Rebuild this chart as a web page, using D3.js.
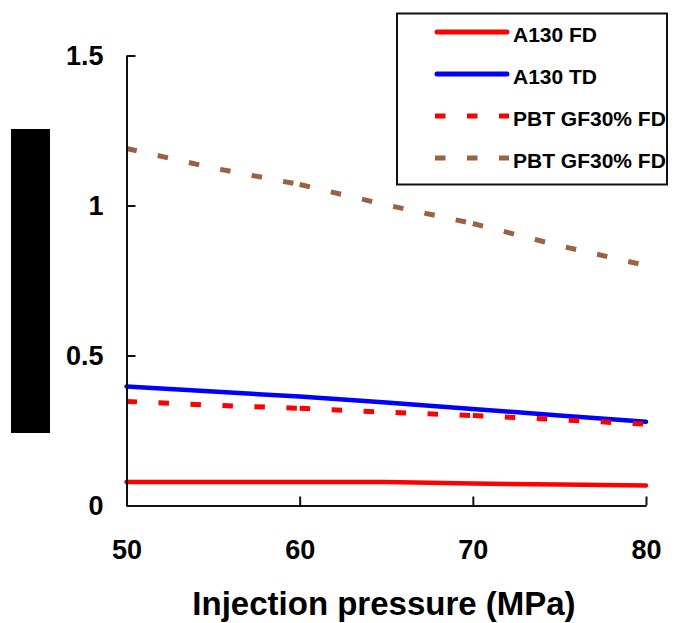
<!DOCTYPE html>
<html>
<head>
<meta charset="utf-8">
<script src="https://cdn.jsdelivr.net/npm/d3@7"></script>
<style>
  html, body { margin: 0; padding: 0; background: #fff; }
  svg { display: block; font-family: "Liberation Sans", Arial, sans-serif; font-weight: bold; }
</style>
</head>
<body>
<svg id="chart" width="680" height="623"></svg>
<script>
// Injection pressure (MPa)
const pressure = [50, 55, 60, 65, 70, 75, 80];

// Measured values per material / direction
const a130FD = [0.078, 0.078, 0.078, 0.078, 0.073, 0.070, 0.067];
const a130TD = [0.397, 0.380, 0.363, 0.343, 0.322, 0.300, 0.279];
const pbtFD  = [0.347, 0.334, 0.324, 0.311, 0.300, 0.286, 0.271];
const pbtFD2 = [1.190, 1.125, 1.070, 1.002, 0.940, 0.866, 0.800];

const seriesNames = ["A130 FD", "A130 TD", "PBT GF30% FD", "PBT GF30% FD"];
const xTicks = [50, 60, 70, 80];
const yTicks = [0, 0.5, 1, 1.5];

const series = [
  { name: seriesNames[0], values: a130FD, color: "#ff0000", dashed: false },
  { name: seriesNames[1], values: a130TD, color: "#0000ff", dashed: false },
  { name: seriesNames[2], values: pbtFD,  color: "#ff0000", dashed: true },
  { name: seriesNames[3], values: pbtFD2, color: "#9a6142", dashed: true }
];

const svg = d3.select("#chart");

const x = d3.scaleLinear().domain([50, 80]).range([126.5, 646]);
const y = d3.scaleLinear().domain([0, 1.5]).range([505.5, 55.5]);

// Axis title block on the left
svg.append("rect")
  .attr("x", 11).attr("y", 129)
  .attr("width", 39).attr("height", 304)
  .attr("fill", "#000");

// Data lines
const line = d3.line()
  .x(d => x(d[0]))
  .y(d => y(d[1]));

series.forEach(s => {
  const pts = pressure.map((p, i) => [p, s.values[i]]);
  if (s.dashed) {
    // dashed series: one path per 10 MPa span so the dash pattern restarts at each major tick
    for (let k = 0; k < xTicks.length - 1; k++) {
      const seg = pts.filter(d => d[0] >= xTicks[k] && d[0] <= xTicks[k + 1]);
      svg.append("path")
        .attr("d", line(seg))
        .attr("fill", "none")
        .attr("stroke", s.color)
        .attr("stroke-width", 5)
        .attr("stroke-dasharray", "10.5 21.5");
    }
  } else {
    svg.append("path")
      .attr("d", line(pts))
      .attr("fill", "none")
      .attr("stroke", s.color)
      .attr("stroke-width", 4.5)
      .attr("stroke-linecap", "round")
      .attr("stroke-linejoin", "round");
  }
});

// Axes
const yAxis = d3.axisLeft(y)
  .tickValues(yTicks)
  .tickFormat(d => String(d))
  .tickSizeInner(-9)
  .tickSizeOuter(0)
  .tickPadding(23);

const xAxis = d3.axisBottom(x)
  .tickValues(xTicks)
  .tickFormat(d => String(d))
  .tickSizeInner(-9)
  .tickSizeOuter(0)
  .tickPadding(34);

const gy = svg.append("g")
  .attr("transform", `translate(${x.range()[0]},0)`)
  .call(yAxis);

const gx = svg.append("g")
  .attr("transform", `translate(0,${y.range()[0]})`)
  .call(xAxis);

[gx, gy].forEach(g => {
  g.select(".domain").attr("stroke", "#111").attr("stroke-width", 2);
  g.selectAll(".tick line").attr("stroke", "#111").attr("stroke-width", 2);
  g.selectAll(".tick text")
    .attr("fill", "#000")
    .style("font-family", "'Liberation Sans', Arial, sans-serif")
    .style("font-weight", "bold")
    .style("font-size", "27px");
});

// X axis title
svg.append("text")
  .attr("x", 384)
  .attr("y", 615)
  .attr("text-anchor", "middle")
  .style("font-size", "33px")
  .attr("fill", "#000")
  .text("Injection pressure (MPa)");

// Legend
const legend = svg.append("g");
legend.append("rect")
  .attr("x", 397).attr("y", 13.5)
  .attr("width", 270).attr("height", 171)
  .attr("fill", "#fff")
  .attr("stroke", "#111")
  .attr("stroke-width", 2);

series.forEach((s, i) => {
  const ry = 32 + i * 42;
  legend.append("line")
    .attr("x1", s.dashed ? 435 : 437).attr("x2", s.dashed ? 509 : 507)
    .attr("y1", ry).attr("y2", ry)
    .attr("stroke", s.color)
    .attr("stroke-width", 5)
    .attr("stroke-linecap", s.dashed ? "butt" : "round")
    .attr("stroke-dasharray", s.dashed ? "10.5 21.5" : null);
  legend.append("text")
    .attr("x", 513)
    .attr("y", ry + 10)
    .style("font-size", "21px")
    .attr("fill", "#000")
    .text(s.name);
});
</script>
</body>
</html>
